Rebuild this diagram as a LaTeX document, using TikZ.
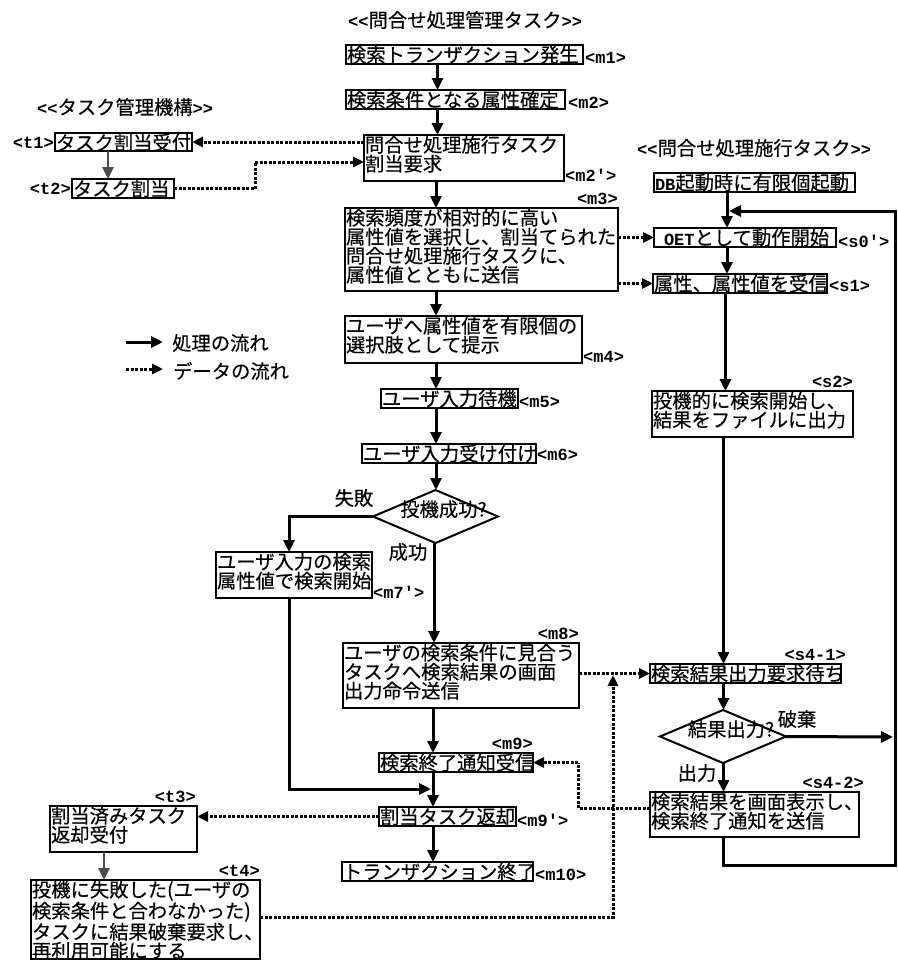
\documentclass[tikz,border=0pt]{standalone}
\usepackage{fontspec}
\setmainfont{Noto Sans CJK JP}[FakeBold=0.35]
\newfontfamily\monof{Liberation Mono}
\usetikzlibrary{arrows.meta,shapes.geometric,calc}
\newcommand{\jpf}{\fontsize{19.3}{19}\selectfont}
\newcommand{\lbf}{\monof\bfseries\fontsize{17}{19}\selectfont}
\newcommand{\bx}[6]{%
  \pgfmathsetmacro\bxw{#4-#2}\pgfmathsetmacro\bxh{#5-#3}%
  \node[pbox,anchor=north west] (#1) at (#2,#3)
    {\parbox[c][\bxh pt][t]{\bxw pt}{\raggedright\leftskip=1pt\rule{0pt}{17pt}#6}};}
\tikzset{
  x=1pt,y=-1pt,
  pbox/.style={draw,line width=2pt,inner sep=0pt,outer sep=0pt,font=\jpf,fill=white},
  lab/.style={inner sep=0pt,font=\lbf},
  txt/.style={inner sep=0pt,font=\jpf},
  dia/.style={draw,diamond,line width=2pt,inner sep=0pt,outer sep=0pt,font=\jpf,fill=white},
  plain/.style={line width=3pt},
  flow/.style={line width=3pt,-{Triangle[length=12pt,width=11pt]}},
  flowg/.style={line width=2.6pt,draw=black!70,-{Triangle[length=12pt,width=11pt,fill=black!70]}},
  data/.style={line width=3pt,dash pattern=on 3pt off 1.5pt,-{Triangle[length=11pt,width=10pt]}},
  datal/.style={line width=3pt,dash pattern=on 3pt off 1.5pt},
}
\begin{document}
\begin{tikzpicture}
\useasboundingbox[fill=white] (0,0) rectangle (897,961);
% titles
\node[txt,anchor=west] (tA) at (348,20) {{\lbf<<}問合せ処理管理タスク{\lbf>>}};
\node[txt,anchor=west] (tB) at (37,107) {{\lbf<<}タスク管理機構{\lbf>>}};
\node[txt,anchor=west] (tC) at (637,148) {{\lbf<<}問合せ処理施行タスク{\lbf>>}};
% column coordinates
\coordinate (cA) at (437.5,0);
\coordinate (cB) at (436,0);
\coordinate (cC) at (434,0);
\coordinate (cD) at (433,0);
\coordinate (cS) at (727,0);
\coordinate (cT) at (725.5,0);
\coordinate (cU) at (723.5,0);
\coordinate (cF) at (289,0);
\coordinate (cL) at (108,0);
\coordinate (cM) at (104,0);
% boxes: main task
\bx{m1}{346}{45}{583}{64}{検索トランザクション発生}
\bx{m2}{346}{90}{565}{109}{検索条件となる属性確定}
\bx{m2p}{364}{135}{564}{181}{問合せ処理施行タスク\\割当要求}
\bx{m3}{345}{208}{618}{291}{検索頻度が相対的に高い\\属性値を選択し、割当てられた\\問合せ処理施行タスクに、\\属性値とともに送信}
\bx{m4}{345}{316}{582}{363}{ユーザへ属性値を有限個の\\選択肢として提示}
\bx{m5}{381}{389}{518}{408}{ユーザ入力待機}
\bx{m6}{362}{444}{536}{463}{ユーザ入力受け付け}
\node[dia,minimum width=125pt,minimum height=53pt,aspect=2.36] (d1) at (435.5,516.5) {\makebox[0pt]{\smash{\hspace{16pt}投機成功?}}};
\bx{m7p}{216}{552}{372}{598}{ユーザ入力の検索\\属性値で検索開始}
\bx{m8}{343}{643}{579}{708}{ユーザの検索条件に見合う\\タスクへ検索結果の画面\\出力命令送信}
\bx{m9}{379}{753}{533}{772}{検索終了通知受信}
\bx{m9p}{379}{807}{516}{826}{割当タスク返却}
\bx{m10}{342}{862}{533}{881}{トランザクション終了}
% boxes: task manager
\bx{t1}{55}{133}{192}{151}{タスク割当受付}
\bx{t2}{72}{179}{174}{198}{タスク割当}
\bx{t3}{50}{806}{197}{852}{割当済みタスク\\返却受付}
\bx{t4}{31}{880}{260}{959}{投機に失敗した(ユーザの\\検索条件と合わなかった)\\タスクに結果破棄要求し、\\再利用可能にする}
% boxes: executor task
\bx{s0}{654}{173}{855}{192}{{\lbf DB}起動時に有限個起動}
\bx{s0p}{654}{228}{836}{247}{\hspace*{9pt}{\lbf OET}として動作開始}
\bx{s1}{653}{274}{827}{293}{属性、属性値を受信}
\bx{s2}{652}{391}{853}{437}{投機的に検索開始し、\\結果をファイルに出力}
\bx{s41}{650}{664}{841}{683}{検索結果出力要求待ち}
\node[dia,minimum width=126pt,minimum height=53pt,aspect=2.36] (d2) at (723,736.5) {\makebox[0pt]{\smash{\hspace{16pt}結果出力?}}};
\bx{s42}{650}{792}{859}{837}{検索結果を画面表示し、\\検索終了通知を送信}
% labels
\node[lab,anchor=west] (lm1) at (585,58) {<m1>};
\node[lab,anchor=west] (lm2) at (568,103) {<m2>};
\node[lab,anchor=west] (lm2p) at (565,175) {<m2'>};
\node[lab,anchor=east] (lm3) at (618,199) {<m3>};
\node[lab,anchor=west] (lm4) at (583,357) {<m4>};
\node[lab,anchor=west] (lm5) at (519,402) {<m5>};
\node[lab,anchor=west] (lm6) at (537,455) {<m6>};
\node[lab,anchor=west] (lm7) at (373,592) {<m7'>};
\node[lab,anchor=east] (lm8) at (579,634) {<m8>};
\node[lab,anchor=east] (lm9) at (533,744) {<m9>};
\node[lab,anchor=west] (lm9p) at (517,820) {<m9'>};
\node[lab,anchor=west] (lm10) at (535,875) {<m10>};
\node[lab,anchor=east] (lt3) at (196,797) {<t3>};
\node[lab,anchor=east] (lt4) at (260,871) {<t4>};
\node[lab,anchor=east] (lt1) at (54,143) {<t1>};
\node[lab,anchor=east] (lt2) at (71,189) {<t2>};
\node[lab,anchor=west] (ls0p) at (838,241) {<s0'>};
\node[lab,anchor=west] (ls1) at (829,286) {<s1>};
\node[lab,anchor=east] (ls2) at (853,382) {<s2>};
\node[lab,anchor=east] (ls41) at (846,655) {<s4-1>};
\node[lab,anchor=east] (ls42) at (864,783) {<s4-2>};
% branch labels
\node[txt] (fail) at (354,498) {失敗};
\node[txt] (ok) at (408,552) {成功};
\node[txt] (drop) at (797,719) {破棄};
\node[txt] (out) at (697,773) {出力};
% legend
\node[txt,anchor=west] (lg1) at (172,343) {処理の流れ};
\node[txt,anchor=west] (lg2) at (173,371) {データの流れ};
\coordinate (lg1a) at (126,342);
\coordinate (lg1b) at (163,342);
\coordinate (lg2a) at (126,369);
\coordinate (lg2b) at (163,369);
\draw[flow] (lg1a) -- (lg1b);
\draw[data] (lg2a) -- (lg2b);
% process flow
\draw[flow] (m1.south -| cA) -- (m2.north -| cA);
\draw[flow] (m2.south -| cA) -- (m2p.north -| cA);
\draw[flow] (m2p.south -| cB) -- (m3.north -| cB);
\draw[flow] (m3.south -| cB) -- (m4.north -| cB);
\draw[flow] (m4.south -| cB) -- (m5.north -| cB);
\draw[flow] (m5.south -| cB) -- (m6.north -| cB);
\draw[flow] (m6.south -| cB) -- (d1.north -| cB);
\draw[flow] (d1.south -| cC) -- (m8.north -| cC);
\draw[flow] (m8.south -| cD) -- (m9.north -| cD);
\draw[flow] (m9.south -| cD) -- (m9p.north -| cD);
\draw[flow] (m9p.south -| cD) -- (m10.north -| cD);
\coordinate (f1) at (289,552);
\draw[flow] (d1.west) -| (f1);
\coordinate (f2) at (431,789);
\draw[flow] (m7p.south -| cF) |- (f2);
\draw[flowg] (t1.south -| cL) -- (t2.north -| cL);
\draw[flowg] (t3.south -| cM) -- (t4.north -| cM);
\draw[flow] (s0.south -| cS) -- (s0p.north -| cS);
\draw[flow] (s0p.south -| cS) -- (s1.north -| cS);
\draw[flow] (s1.south -| cT) -- (s2.north -| cT);
\draw[flow] (s2.south -| cU) -- (s41.north -| cU);
\draw[flow] (s41.south -| cU) -- (d2.north -| cU);
\draw[flow] (d2.south -| cU) -- (s42.north -| cU);
\coordinate (rx) at (893,737);
\draw[flow] (d2.east) -- (rx);
\coordinate (lbr) at (895,865);
\coordinate (ltr) at (895,211);
\coordinate (ltl) at (729,211);
\draw[flow] (s42.south -| cU) |- (lbr) -- (ltr) -- (ltl);
% data flow
\draw[data] (m2p.west |- t1.east) -- (t1.east);
\coordinate (t2j) at (255,162);
\draw[datal] (t2.east) -| (t2j);
\draw[data] (t2j) -- (m2p.west |- t2j);
\draw[data] (m3.east |- s0p.west) -- (s0p.west);
\draw[data] (m3.east |- s1.west) -- (s1.west);
\draw[data] (m8.east |- s41.west) -- (s41.west);
\coordinate (t4j) at (613,917);
\coordinate (t4e) at (613,675);
\draw[data] (t4.east |- t4j) -| (t4e);
\coordinate (sy) at (650,808);
\coordinate (sj) at (578,762.5);
\draw[datal] (s42.west |- sy) -| (sj);
\draw[data] (sj) -- (m9.east);
\draw[data] (m9p.west) -- (t3.east |- m9p.west);
\end{tikzpicture}
\end{document}
